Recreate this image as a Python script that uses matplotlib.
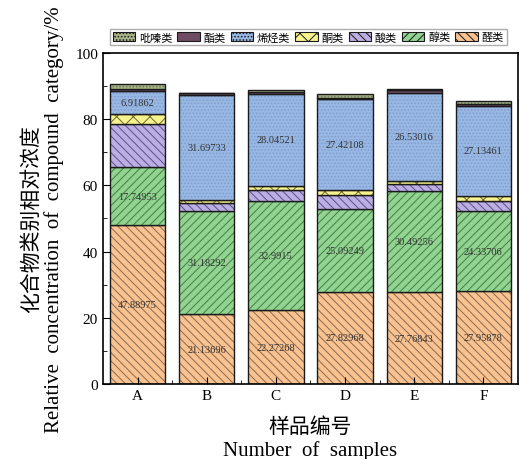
import matplotlib.pyplot as plt
import numpy as np

plt.rcParams['font.family'] = ['Liberation Serif', 'Noto Sans CJK SC']
plt.rcParams['hatch.linewidth'] = 0.7

samples = ['A', 'B', 'C', 'D', 'E', 'F']
# 醛类 醇类 酸类 酮类 烯烃类 酯类 吡嗪类 (bottom to top)
aldehydes = [47.88975, 21.13696, 22.27268, 27.82968, 27.76843, 27.95878]
alcohols = [17.74953, 31.18292, 32.9915, 25.09249, 30.49256, 24.33706]
acids = [12.9, 2.3, 3.2, 4.3, 2.1, 3.1]
ketones = [3.1, 1.0, 1.2, 1.4, 1.0, 1.5]
olefins = [6.91862, 31.69733, 28.04521, 27.42108, 26.53016, 27.13461]
esters = [0.5, 0.7, 0.5, 0.4, 0.9, 0.4]
pyrazines = [1.5, 0.0, 0.6, 1.0, 0.3, 1.0]

# name, values, fill, hatch, hatch colour, value labels
series = [
    ('醛类', aldehydes, '#f9c291', '\\\\\\\\', '#8a6a50', True),
    ('醇类', alcohols, '#92d392', '////', '#3f7f3f', True),
    ('酸类', acids, '#bcaee3', '\\\\\\\\', '#5a5088', False),
    ('酮类', ketones, '#f7f28e', 'xx', '#6a6a30', False),
    ('烯烃类', olefins, '#98b7e4', '.....', '#7f9dc8', True),
    ('酯类', esters, '#6e4a63', '', '#6e4a63', False),
    ('吡嗪类', pyrazines, '#a6b487', '.....', '#707a58', False),
]

fig = plt.figure(figsize=(5.2, 4.6), dpi=100)
ax = fig.add_axes([0.198, 0.163, 0.798, 0.72])

x = np.arange(len(samples))
bottom = np.zeros(len(samples))
handles = {}
for name, vals, color, hatch, hcolor, labelled in series:
    vals = np.array(vals)
    # hatched fill first, then a plain black outline on top
    ax.bar(x, vals, 0.8, bottom=bottom, color=color, hatch=hatch,
           edgecolor=hcolor, linewidth=0)
    ax.bar(x, vals, 0.8, bottom=bottom, fill=False,
           edgecolor='#1a1a1a', linewidth=1.0)
    handles[name] = plt.Rectangle((0, 0), 1, 1, facecolor=color, hatch=hatch,
                                  edgecolor=hcolor, linewidth=0)
    if labelled:
        for xi, b, v in zip(x, bottom, vals):
            ax.text(xi, b + v / 2, f'{v}', ha='center', va='center',
                    fontsize=7.5, color='#333333')
    bottom += vals

ax.set_xlim(-0.5, 5.5)
ax.set_ylim(0, 100)
ax.set_xticks(x)
ax.set_xticklabels(samples, fontsize=10)
ax.set_xticks(x[:-1] + 0.5, minor=True)
ax.set_yticks(range(0, 101, 20))
ax.set_yticks(range(10, 100, 20), minor=True)
ax.tick_params(axis='both', which='both', direction='in', labelsize=11)
ax.tick_params(which='major', length=5)
ax.tick_params(which='minor', length=3)
for s in ax.spines.values():
    s.set_linewidth(1.2)

ax.set_xlabel('样品编号\nNumber  of  samples', fontsize=15, linespacing=1.2,
              labelpad=11)
ax.set_ylabel('化合物类别相对浓度\nRelative  concentration  of  compound  category/%',
              fontsize=15, linespacing=1.15, labelpad=8)

order = ['吡嗪类', '酯类', '烯烃类', '酮类', '酸类', '醇类', '醛类']
legend = fig.legend([handles[k] for k in order], order, loc='center',
                    bbox_to_anchor=(0.593, 0.917), ncol=7, fontsize=8,
                    handlelength=2.0, handleheight=0.9, handletextpad=0.35,
                    columnspacing=0.45, frameon=True, fancybox=False,
                    edgecolor='#999999', borderpad=0.25, borderaxespad=0)
for h in legend.legend_handles:
    h.set_edgecolor('#1a1a1a')
    h.set_linewidth(0.8)

fig.savefig('out.png', dpi=100)
